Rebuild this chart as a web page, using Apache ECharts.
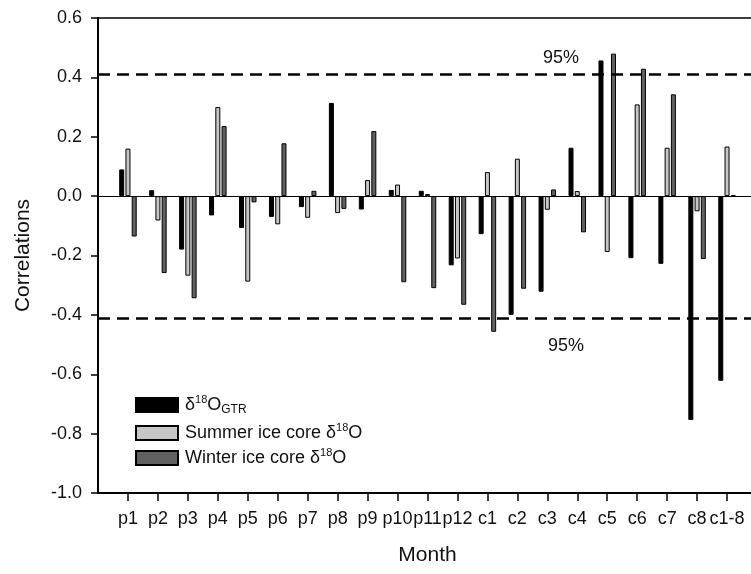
<!DOCTYPE html>
<html>
<head>
<meta charset="utf-8">
<script src="https://cdn.jsdelivr.net/npm/echarts@6/dist/echarts.min.js"></script>
<style>
  html, body { margin: 0; padding: 0; background: #fff; overflow: hidden; }
  /* plot runs a little past the right edge of the window, as in the original */
  #main { width: 760px; height: 574px; }
</style>
</head>
<body>
<div id="main"></div>
<script>
// months on the x axis
var months = ['p1', 'p2', 'p3', 'p4', 'p5', 'p6', 'p7', 'p8', 'p9', 'p10', 'p11', 'p12',
              'c1', 'c2', 'c3', 'c4', 'c5', 'c6', 'c7', 'c8', 'c1-8'];
// correlations
var gtr    = [0.09, 0.02, -0.18, -0.065, -0.107, -0.07, -0.037, 0.314, -0.045, 0.021, 0.018, -0.233,
              -0.128, -0.40, -0.322, 0.163, 0.457, -0.209, -0.228, -0.754, -0.622];
var summer = [0.16, -0.082, -0.268, 0.30, -0.288, -0.095, -0.073, -0.057, 0.054, 0.039, 0.007, -0.21,
              0.081, 0.126, -0.046, 0.017, -0.188, 0.309, 0.163, -0.051, 0.167];
var winter = [-0.136, -0.259, -0.344, 0.236, -0.021, 0.178, 0.018, -0.043, 0.219, -0.29, -0.31, -0.366,
              -0.457, -0.312, 0.0225, -0.122, 0.48, 0.429, 0.343, -0.212, 0.003];
var yTicks = [-1.0, -0.8, -0.6, -0.4, -0.2, 0.0, 0.2, 0.4, 0.6];
var sig95 = 0.414;

var font = "'Liberation Sans', Arial, sans-serif";
var myChart = echarts.init(document.getElementById('main'));

// one empty slot each side so the groups sit on the ticks like the original
function pad(a) { return [null].concat(a, [null]); }
var cats = [''].concat(months, ['']);

var names = { gtr: 'gtr', summer: 'summer', winter: 'winter' };
var legendText = {
  gtr: '{n|δ}{sup|18}{n|O}{sub|GTR}',
  summer: '{n|Summer ice core δ}{sup|18}{n|O}',
  winter: '{n|Winter ice core δ}{sup|18}{n|O}'
};
var rich = {
  n: { fontSize: 18, fontFamily: font, color: '#111', lineHeight: 22 },
  sup: { fontSize: 11, fontFamily: font, color: '#111', lineHeight: 22, verticalAlign: 'top', padding: [0, 0, 6, 0] },
  sub: { fontSize: 12, fontFamily: font, color: '#111', lineHeight: 22, verticalAlign: 'bottom', padding: [8, 0, 0, 0] }
};
function legendAt(name, top) {
  return {
    data: [name], left: 135, top: top, orient: 'vertical',
    itemWidth: 42, itemHeight: 14, itemGap: 0, padding: 0,
    icon: 'rect', selectedMode: false,
    formatter: function (n) { return legendText[n]; },
    textStyle: { rich: rich, padding: [0, 0, 0, 2] }
  };
}

var option = {
  animation: false,
  grid: { left: 98, right: 2, top: 18, bottom: 81, show: true, borderColor: '#000', borderWidth: 1.5, backgroundColor: 'transparent' },
  legend: [legendAt(names.gtr, 394), legendAt(names.summer, 422), legendAt(names.winter, 447)],
  xAxis: {
    type: 'category', data: cats, boundaryGap: false,
    name: 'Month', nameLocation: 'middle', nameGap: 52,
    nameTextStyle: { fontSize: 21, fontFamily: font, color: '#111' },
    axisLine: { onZero: false, lineStyle: { color: '#000', width: 2 } },
    axisTick: {
      length: 8, lineStyle: { color: '#000', width: 1.5 },
      interval: function (i, v) { return v !== ''; }
    },
    axisLabel: { interval: 0, margin: 17, fontSize: 18, fontFamily: font, color: '#111' },
    splitLine: { show: false }
  },
  yAxis: {
    type: 'value', min: yTicks[0], max: yTicks[yTicks.length - 1], interval: 0.2,
    name: 'Correlations', nameLocation: 'middle', nameGap: 64,
    nameTextStyle: { fontSize: 21, fontFamily: font, color: '#111' },
    axisLine: { show: true, lineStyle: { color: '#000', width: 2 } },
    axisTick: { show: true, length: 7, lineStyle: { color: '#000', width: 1.5 } },
    axisLabel: {
      margin: 16, fontSize: 18, fontFamily: font, color: '#111',
      formatter: function (v) { return Math.abs(v) < 1e-9 ? '0.0' : v.toFixed(1); }
    },
    splitLine: { show: false }
  },
  graphic: [
    { type: 'text', left: 543, top: 49, style: { text: '95%', fontSize: 18, fontFamily: font, fill: '#111' } },
    { type: 'text', left: 548, top: 337, style: { text: '95%', fontSize: 18, fontFamily: font, fill: '#111' } }
  ],
  series: [
    {
      name: names.gtr, type: 'bar', data: pad(gtr), barWidth: 5, barGap: '25%',
      itemStyle: { color: '#000', borderColor: '#000', borderWidth: 1 },
      markLine: {
        silent: true, symbol: 'none', label: { show: false },
        data: [
          { yAxis: sig95, lineStyle: { type: [12, 7], width: 2.5, color: '#000' } },
          { yAxis: -sig95, lineStyle: { type: [12, 7], width: 2.5, color: '#000' } },
          { yAxis: 0, lineStyle: { type: 'solid', width: 1, color: '#000' } }
        ]
      }
    },
    {
      name: names.summer, type: 'bar', data: pad(summer), barWidth: 5, barGap: '25%',
      itemStyle: { color: '#c6c6c6', borderColor: '#000', borderWidth: 1 }
    },
    {
      name: names.winter, type: 'bar', data: pad(winter), barWidth: 5, barGap: '25%',
      itemStyle: { color: '#616161', borderColor: '#000', borderWidth: 1 }
    }
  ]
};

myChart.setOption(option);
</script>
</body>
</html>
